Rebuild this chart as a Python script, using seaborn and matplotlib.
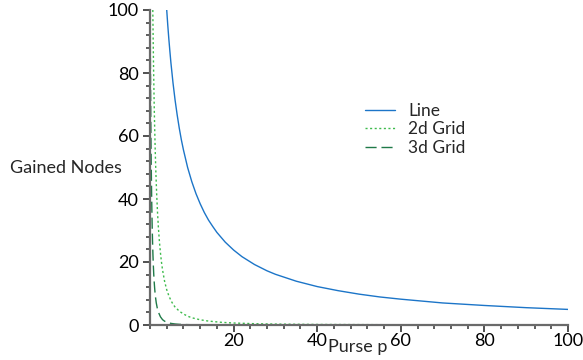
import matplotlib
matplotlib.use("Agg")

import matplotlib.pyplot as plt
import pandas as pd
import seaborn as sns
from matplotlib.ticker import MultipleLocator

# values
line_p = [4, 4.25, 4.5, 4.75, 5, 5.5, 6, 6.5, 7, 7.5, 8, 9, 10, 11, 12, 13, 14, 15, 16, 18,
          20, 22, 25, 28, 30, 35, 40, 45, 50, 55, 60, 70, 80, 90, 100]
line_nodes = [100, 95.2, 90.9, 87.0, 83.3, 76.9, 71.4, 66.7, 62.5, 58.8, 55.6, 50, 45.5, 41.7,
              38.5, 35.7, 33.3, 31.3, 29.4, 26.3, 23.8, 21.7, 19.2, 17.2, 16.1, 13.9, 12.2,
              10.9, 9.8, 8.9, 8.2, 7.0, 6.2, 5.5, 4.95]

grid2_p = [0.67, 0.75, 0.85, 1.0, 1.1, 1.25, 1.4, 1.6, 1.8, 2.0, 2.25, 2.5, 2.75, 3, 3.5, 4,
           4.5, 5, 5.5, 6, 7, 8, 9, 10, 12, 14, 17, 20, 25, 30, 40, 60, 80, 100]
grid2_nodes = [100, 91.4, 81.8, 70, 63.5, 55.3, 48.6, 41.4, 35.7, 31.1, 26.5, 22.9, 19.9, 17.5,
               13.8, 11.2, 9.3, 7.8, 6.6, 5.7, 4.4, 3.5, 2.8, 2.3, 1.66, 1.24, 0.86, 0.63,
               0.41, 0.29, 0.17, 0.08, 0.04, 0.03]

grid3_p = [0.03, 0.1, 0.2, 0.3, 0.4, 0.5, 0.6, 0.7, 0.8, 0.9, 1.0, 1.1, 1.2, 1.35, 1.5, 1.75,
           2, 2.5, 3, 3.5, 4, 5, 6, 7, 8, 10, 15, 20, 40, 100]
grid3_nodes = [100, 82.6, 63.7, 50.1, 40.1, 32.6, 26.9, 22.4, 18.9, 16.0, 13.75, 11.9, 10.3,
               8.5, 7.0, 5.3, 4.1, 2.6, 1.7, 1.2, 0.88, 0.51, 0.32, 0.21, 0.15, 0.08, 0.03,
               0.01, 0.0, 0.0]

series_names = ["Line", "2d Grid", "3d Grid"]
series_colors = ["#1c75c8", "#3dbb4c", "#1f7a48"]
x_ticks = [20, 40, 60, 80, 100]
y_ticks = [0, 20, 40, 60, 80, 100]

sns.set_style("ticks")
plt.rcParams["font.family"] = ["Lato", "DejaVu Sans"]

fig = plt.figure(figsize=(5.83, 3.6), dpi=100)
ax = fig.add_axes([150 / 583, 1 - 325 / 360, 418 / 583, 315 / 360])

df_line = pd.DataFrame({"p": line_p, "nodes": line_nodes})
df_2d = pd.DataFrame({"p": grid2_p, "nodes": grid2_nodes})
df_3d = pd.DataFrame({"p": grid3_p, "nodes": grid3_nodes})

sns.lineplot(data=df_line, x="p", y="nodes", ax=ax, color=series_colors[0],
             linewidth=1.0, label=series_names[0])
sns.lineplot(data=df_2d, x="p", y="nodes", ax=ax, color=series_colors[1],
             linewidth=1.0, linestyle=(0, (1.5, 1.8)), label=series_names[1])
sns.lineplot(data=df_3d, x="p", y="nodes", ax=ax, color=series_colors[2],
             linewidth=1.0, linestyle=(0, (8, 3.5)), label=series_names[2])

ax.set_xlim(0, 100)
ax.set_ylim(0, 100)

# axes drawn maple-style: only left and bottom, grey
for side in ["top", "right"]:
    ax.spines[side].set_visible(False)
for side in ["left", "bottom"]:
    ax.spines[side].set_color("#6a6a6a")
    ax.spines[side].set_linewidth(1.6)

ax.set_xticks(x_ticks)
ax.set_yticks(y_ticks)
ax.xaxis.set_minor_locator(MultipleLocator(4))
ax.yaxis.set_minor_locator(MultipleLocator(4))
ax.tick_params(axis="both", which="major", direction="out", length=5, width=1.2,
               color="#333333", labelsize=13, labelcolor="black",
               bottom=True, left=True)
ax.tick_params(axis="both", which="minor", direction="out", length=3, width=1.1,
               color="#333333", bottom=True, left=True)
ax.tick_params(axis="y", which="major", pad=3)
ax.tick_params(axis="x", which="major", pad=1)

ax.set_xlabel("")
ax.set_ylabel("")
ax.text(0.427, -0.045, "Purse p", transform=ax.transAxes, fontsize=13,
        ha="left", va="top")
fig.text(10 / 583, 1 - 168 / 360, "Gained Nodes", fontsize=13,
         ha="left", va="center")

leg = ax.legend(loc="upper left", bbox_to_anchor=(349 / 583, 1 - 87 / 360),
                bbox_transform=fig.transFigure, frameon=False, fontsize=12.5,
                handlelength=1.75, handletextpad=0.75, labelspacing=0.15)

plt.savefig("out.png", dpi=100)
plt.close()
